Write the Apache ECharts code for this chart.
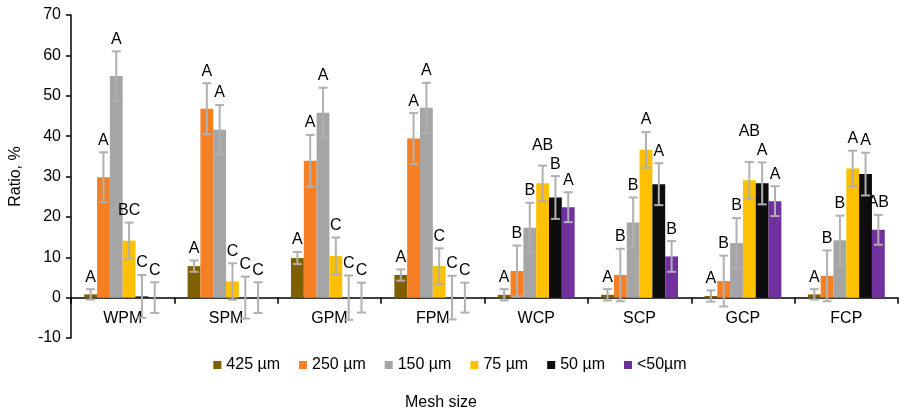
<!DOCTYPE html>
<html><head><meta charset="utf-8">
<script src="https://cdn.jsdelivr.net/npm/echarts@6/dist/echarts.min.js"></script>
<style>html,body{margin:0;padding:0;background:#fff}#c{width:900px;height:414px}</style>
</head><body><div id="c"></div>
<script>
const categories = ['WPM','SPM','GPM','FPM','WCP','SCP','GCP','FCP'];
const seriesNames = ['425 µm','250 µm','150 µm','75 µm','50 µm','<50µm'];
const colors = ['#7F6000','#F47F25','#A5A5A5','#FFC000','#0D0D0D','#7030A0'];
const yTicks = {min:-10, max:70, interval:10};

const v425 = [0.8, 7.8, 9.8, 5.6, 0.7, 0.7, 0.4, 0.8];
const v250 = [29.8, 46.8, 33.9, 39.4, 6.6, 5.6, 4.1, 5.4];
const v150 = [54.9, 41.6, 45.8, 47.0, 17.3, 18.6, 13.5, 14.2];
const v75  = [14.1, 4.0, 10.3, 7.8, 28.3, 36.6, 29.1, 32.0];
const v50  = [0.3, 0, 0, 0, 24.8, 28.1, 28.3, 30.6];
const v50l = [0, 0, 0, 0, 22.4, 10.2, 23.9, 16.8];

const sd425 = [1.3, 1.4, 1.5, 1.4, 1.4, 1.4, 1.4, 1.3];
const sd250 = [6.2, 6.3, 6.4, 6.3, 6.3, 6.5, 6.3, 6.3];
const sd150 = [6.1, 6.1, 6.2, 6.2, 6.2, 6.2, 6.2, 6.1];
const sd75  = [4.5, 4.5, 4.6, 4.4, 4.4, 4.4, 4.5, 4.4];
const sd50  = [5.3, 5.2, 5.5, 5.4, 5.3, 5.2, 5.2, 5.3];
const sd50l = [3.8, 3.8, 3.7, 3.7, 3.7, 3.8, 3.7, 3.7];

const lt425 = ['A','A','A','A','A','A','A','A'];
const lt250 = ['A','A','A','A','B','B','B','B'];
const lt150 = ['A','A','A','A','B','B','B','B'];
const lt75  = ['BC','C','C','C','AB','A','AB','A'];
const lt50  = ['C','C','C','C','B','A','A','A'];
const lt50l = ['C','C','C','C','A','B','A','AB'];

const values = [v425, v250, v150, v75, v50, v50l];
const sds = [sd425, sd250, sd150, sd75, sd50, sd50l];
const letters = [lt425, lt250, lt150, lt75, lt50, lt50l];

const gapRatio = 0.256;
const FONT = 'Liberation Sans, Arial, sans-serif';
const LBL_SIZE = 16;
const CHAR_W = 10.7;

const series = [];
values.forEach((vals, si) => {
  series.push({
    type: 'bar', name: seriesNames[si], data: vals,
    barGap: '0%', barCategoryGap: (gapRatio*100)+'%',
    itemStyle: {color: colors[si]}, z: 2, animation: false
  });
});

function labelBottom(api, ci, si) {
  const v = values[si][ci] + sds[si][ci];
  return api.coord([ci, v])[1] - 4;
}

values.forEach((vals, si) => {
  series.push({
    type: 'custom', z: 5, animation: false, silent: true,
    data: vals.map((v, i) => [i, v, sds[si][i]]),
    encode: {x: 0, y: 1},
    renderItem: (params, api) => {
      const ci = api.value(0), v = api.value(1), sd = api.value(2);
      const catW = api.size([1, 0])[0];
      const bw = catW * (1 - gapRatio) / 6;
      const cx = api.coord([ci, 0])[0] + (si - 2.5) * bw;
      const top = api.coord([ci, v + sd])[1];
      const bot = api.coord([ci, v - sd])[1];
      const st = {stroke: '#B0B0B0', lineWidth: 2};
      const cap = 4.5;
      // label: avoid overlap with the next label on the right
      const txt = letters[si][ci];
      let lb = top - 4;
      if (si < 5) {
        const nTxt = letters[si + 1][ci];
        const nb = labelBottom(api, ci, si + 1);
        const halfSum = (txt.length + nTxt.length) * CHAR_W / 2;
        if (bw < halfSum && Math.abs(nb - lb) < LBL_SIZE && lb > nb - LBL_SIZE) {
          lb = nb - LBL_SIZE - 3;
        }
      }
      return {type: 'group', children: [
        {type: 'line', shape: {x1: cx, y1: top, x2: cx, y2: bot}, style: st},
        {type: 'line', shape: {x1: cx - cap, y1: top, x2: cx + cap, y2: top}, style: st},
        {type: 'line', shape: {x1: cx - cap, y1: bot, x2: cx + cap, y2: bot}, style: st},
        {type: 'text', x: cx, y: lb, style: {text: txt, fill: '#000', font: LBL_SIZE + 'px ' + FONT, align: 'center', verticalAlign: 'bottom'}}
      ]};
    }
  });
});

const chart = echarts.init(document.getElementById('c'), null, {renderer: 'canvas'});
chart.setOption({
  animation: false,
  textStyle: {fontFamily: FONT},
  grid: {left: 70, right: 2, top: 15, bottom: 76, containLabel: false},
  legend: {
    data: seriesNames, top: 352, left: 'center', icon: 'rect',
    itemWidth: 8, itemHeight: 8, itemGap: 19,
    textStyle: {fontSize: 16, color: '#000', fontFamily: FONT}
  },
  graphic: [{type: 'text', x: 441, y: 403, style: {text: 'Mesh size', font: '16px ' + FONT, fill: '#000', align: 'center', verticalAlign: 'middle'}}],
  xAxis: {
    type: 'category', data: categories,
    axisLine: {onZero: true, lineStyle: {color: '#000', width: 1.5}},
    axisTick: {show: true, length: 6, lineStyle: {color: '#000', width: 1.5}},
    axisLabel: {fontSize: 16, color: '#000', margin: -27, fontFamily: FONT},
    splitLine: {show: false}
  },
  yAxis: {
    type: 'value', min: yTicks.min, max: yTicks.max, interval: yTicks.interval,
    name: 'Ratio, %', nameLocation: 'middle', nameGap: 47, nameRotate: 90,
    nameTextStyle: {fontSize: 16, color: '#000', fontFamily: FONT},
    axisLine: {show: true, lineStyle: {color: '#000', width: 1.5}},
    axisTick: {show: true, length: 5, lineStyle: {color: '#000', width: 1.5}},
    axisLabel: {fontSize: 16, color: '#000', margin: 10, fontFamily: FONT},
    splitLine: {show: false}
  },
  series: series
});
</script></body></html>
